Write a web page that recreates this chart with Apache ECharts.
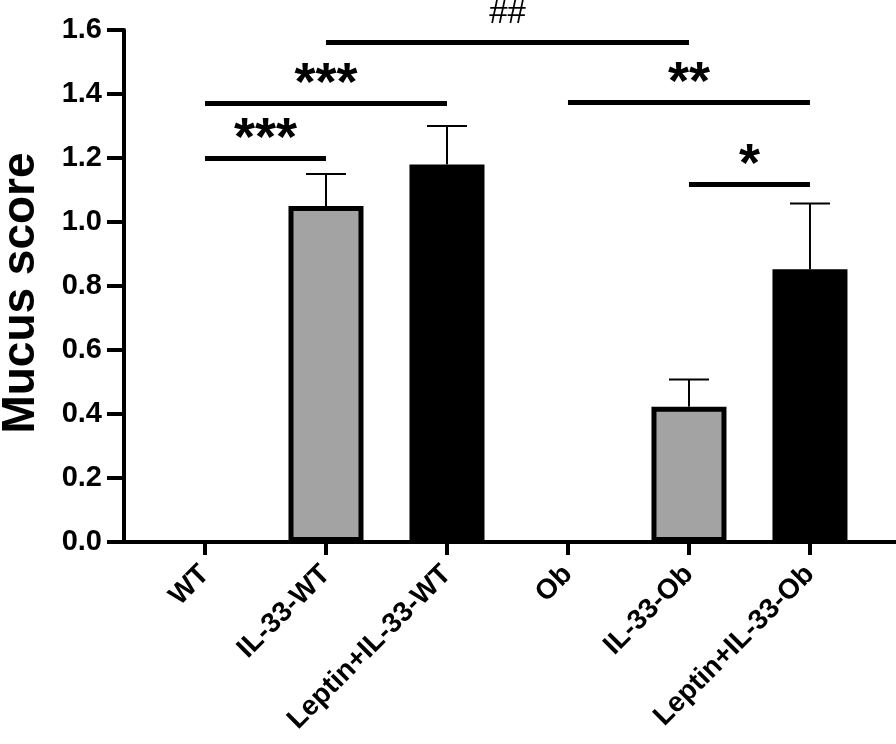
<!DOCTYPE html>
<html><head><meta charset="utf-8">
<script src="https://cdn.jsdelivr.net/npm/echarts@6/dist/echarts.min.js"></script>
<style>html,body{margin:0;padding:0;background:#fff}#c{width:896px;height:744px}</style>
</head><body><div id="c"></div>
<script>
// ---- data ----
const categories = ['WT', 'IL-33-WT', 'Leptin+IL-33-WT', 'Ob', 'IL-33-Ob', 'Leptin+IL-33-Ob'];
const means = [0, 1.05, 1.18, 0, 0.423, 0.852];
const sems = [0, 0.10, 0.12, 0, 0.085, 0.206];
const yTicks = [0, 0.2, 0.4, 0.6, 0.8, 1.0, 1.2, 1.4, 1.6];
// comparisons: from index, to index, bracket height, label
const compFrom = [0, 0, 1, 3, 4];
const compTo = [1, 2, 4, 5, 5];
const compY = [1.2, 1.372, 1.563, 1.374, 1.117];
const compLabel = ['***', '***', '##', '**', '*'];

// ---- styles ----
const FONT = '"Liberation Sans", Arial, sans-serif';
const GRAY = '#a3a3a3';
function fillFor(name) { return name.startsWith('Leptin') ? '#000000' : GRAY; }

const chart = echarts.init(document.getElementById('c'), null, {renderer: 'canvas'});
const idx = categories.map((_, i) => i);

const markData = compFrom.map((f, i) => {
  const isHash = compLabel[i].indexOf('#') >= 0;
  return [
    {coord: [f, compY[i]], label: {formatter: compLabel[i],
      fontSize: isHash ? 33 : 54, fontWeight: isHash ? 'normal' : 'bold',
      distance: isHash ? 11 : -9}},
    {coord: [compTo[i], compY[i]]}
  ];
});

chart.setOption({
  animation: false,
  backgroundColor: '#fff',
  textStyle: {fontFamily: FONT},
  grid: {left: 124, right: 0, top: 30, bottom: 202, containLabel: false, outerBoundsMode: 'none'},
  xAxis: {
    type: 'value', min: -0.6694, max: 5.711,
    splitLine: {show: false},
    axisLine: {show: true, onZero: false, lineStyle: {color: '#000', width: 4}},
    axisTick: {show: true, customValues: idx, length: 13, lineStyle: {color: '#000', width: 4}},
    axisLabel: {customValues: idx, formatter: v => categories[Math.round(v)], rotate: 45,
      fontSize: 28, fontWeight: 'bold', color: '#000', margin: 28, fontFamily: FONT}
  },
  yAxis: {
    type: 'value', min: yTicks[0], max: yTicks[yTicks.length - 1], interval: 0.2,
    splitLine: {show: false},
    axisLine: {show: true, onZero: false, lineStyle: {color: '#000', width: 4}},
    axisTick: {show: true, length: 17, lineStyle: {color: '#000', width: 4}},
    axisLabel: {formatter: v => v.toFixed(1), fontSize: 29, fontWeight: 'bold', color: '#000',
      margin: 22, fontFamily: FONT},
    name: 'Mucus score', nameLocation: 'middle', nameGap: 80,
    nameTextStyle: {fontSize: 46, fontWeight: 'bold', color: '#000', fontFamily: FONT, padding: [0, 14, 0, 0]}
  },
  series: [
    {
      type: 'bar', barWidth: 75,
      data: categories.map((c, i) => ({value: [i, means[i] === 0 ? null : means[i]], itemStyle: {color: fillFor(c)}})),
      itemStyle: {borderColor: '#000', borderWidth: 5},
      markLine: {
        silent: true, symbol: 'none', animation: false,
        lineStyle: {color: '#000', width: 5, type: 'solid'},
        label: {show: true, position: 'middle', color: '#000', fontFamily: FONT},
        emphasis: {disabled: true},
        data: markData
      }
    },
    {
      type: 'custom', z: 5,
      data: categories.map((c, i) => [i, means[i], sems[i]]),
      renderItem: function (params, api) {
        const x = api.value(0), m = api.value(1), s = api.value(2);
        if (!s) return null;
        const p0 = api.coord([x, m]);
        const p1 = api.coord([x, m + s]);
        return {type: 'group', children: [
          {type: 'line', shape: {x1: p0[0], y1: p0[1], x2: p1[0], y2: p1[1]}, style: {stroke: '#000', lineWidth: 2}},
          {type: 'line', shape: {x1: p1[0] - 20, y1: p1[1], x2: p1[0] + 20, y2: p1[1]}, style: {stroke: '#000', lineWidth: 2}}
        ]};
      }
    }
  ]
});
</script>
</body></html>
